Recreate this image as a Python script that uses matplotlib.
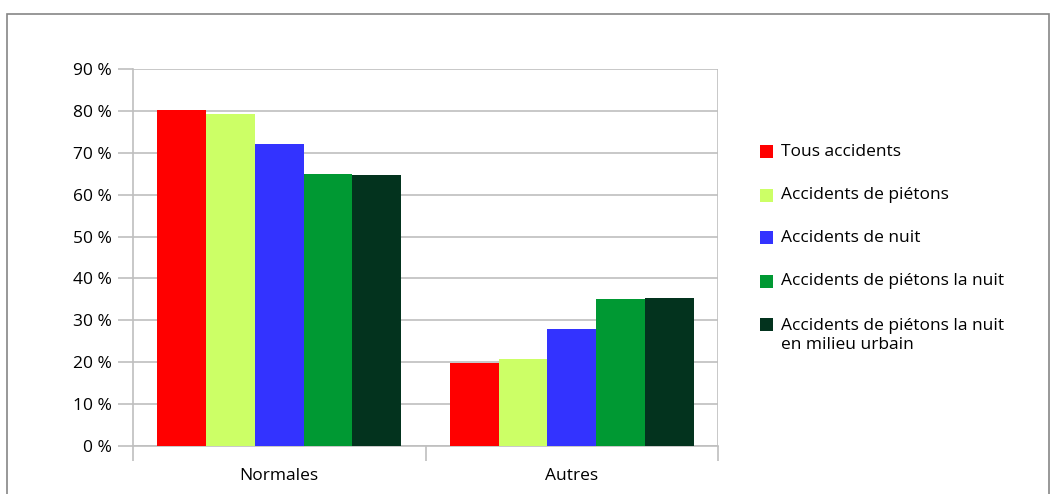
import matplotlib
matplotlib.use('Agg')
from matplotlib import pyplot as plt
from matplotlib.patches import Rectangle
import numpy as np

# data
categories = ["Normales", "Autres"]
series_names = ["Tous accidents", "Accidents de piétons", "Accidents de nuit",
                "Accidents de piétons la nuit",
                "Accidents de piétons la nuit\nen milieu urbain"]
series_values = [
    [80.2, 19.8],
    [79.2, 20.8],
    [72.0, 28.0],
    [65.0, 35.0],
    [64.6, 35.4],
]
colors = ["#ff0000", "#ccff66", "#3333ff", "#009933", "#03331e"]
yticks = [0, 10, 20, 30, 40, 50, 60, 70, 80, 90]

plt.rcParams['font.family'] = ['Open Sans', 'DejaVu Sans']
grid_col = "#bfbfbf"
fs = 12.5

W, H = 1052, 494
fig = plt.figure(figsize=(W / 100, H / 100), dpi=100)
# plot area in pixels: x 133..718, y 69..446
ax = fig.add_axes([133 / W, 1 - 446 / H, (718 - 133) / W, (446 - 69) / H])

x = np.arange(len(categories))
n = len(series_values)
bw = 0.834 / n
for i, (vals, name, c) in enumerate(zip(series_values, series_names, colors)):
    ax.bar(x - 0.417 + bw * (i + 0.5), vals, width=bw, color=c, label=name,
           linewidth=0, zorder=3)

ax.set_xlim(-0.5, len(categories) - 0.5)
ax.set_ylim(0, 90)
ax.set_yticks(yticks)
ax.set_yticklabels([f"{v} %" for v in yticks])
ax.yaxis.grid(True, color=grid_col, linewidth=1.2, zorder=0)
ax.set_xticks(x)
ax.set_xticklabels(categories)
ax.set_xticks(np.arange(len(categories) + 1) - 0.5, minor=True)
ax.tick_params(axis='x', which='major', length=0, labelsize=fs, pad=16,
               colors="#000000")
ax.tick_params(axis='x', which='minor', length=11, width=1.2, color=grid_col)
ax.tick_params(axis='y', length=11, width=1.2, color=grid_col, labelsize=fs,
               pad=4)

for s in ['top', 'right']:
    ax.spines[s].set_visible(False)
for s in ['left', 'bottom']:
    ax.spines[s].set_color(grid_col)
    ax.spines[s].set_linewidth(1.2)
# right edge line of the plot area
ax.axvline(len(categories) - 0.5, color=grid_col, linewidth=1.2, zorder=0)

# legend, drawn by hand so the square sits on the first line of each label
row_y = 152
for name, c in zip(series_names, colors):
    nlines = name.count("\n") + 1
    fig.patches.append(Rectangle((760 / W, 1 - (row_y + 6.5) / H), 13 / W, 13 / H,
                                 transform=fig.transFigure, facecolor=c,
                                 edgecolor='none'))
    cy = row_y + (nlines - 1) * 23 / 2
    fig.text(781 / W, 1 - cy / H, name, fontsize=fs, va='center', ha='left',
             linespacing=1.3)
    row_y += 43

# outer chart border
fig.patches.append(Rectangle((7 / W, -0.05), (1049 - 7) / W, 1.05 - 14 / H,
                             transform=fig.transFigure, fill=False,
                             edgecolor="#868686", linewidth=1.2))

fig.savefig("out.png", dpi=100)
